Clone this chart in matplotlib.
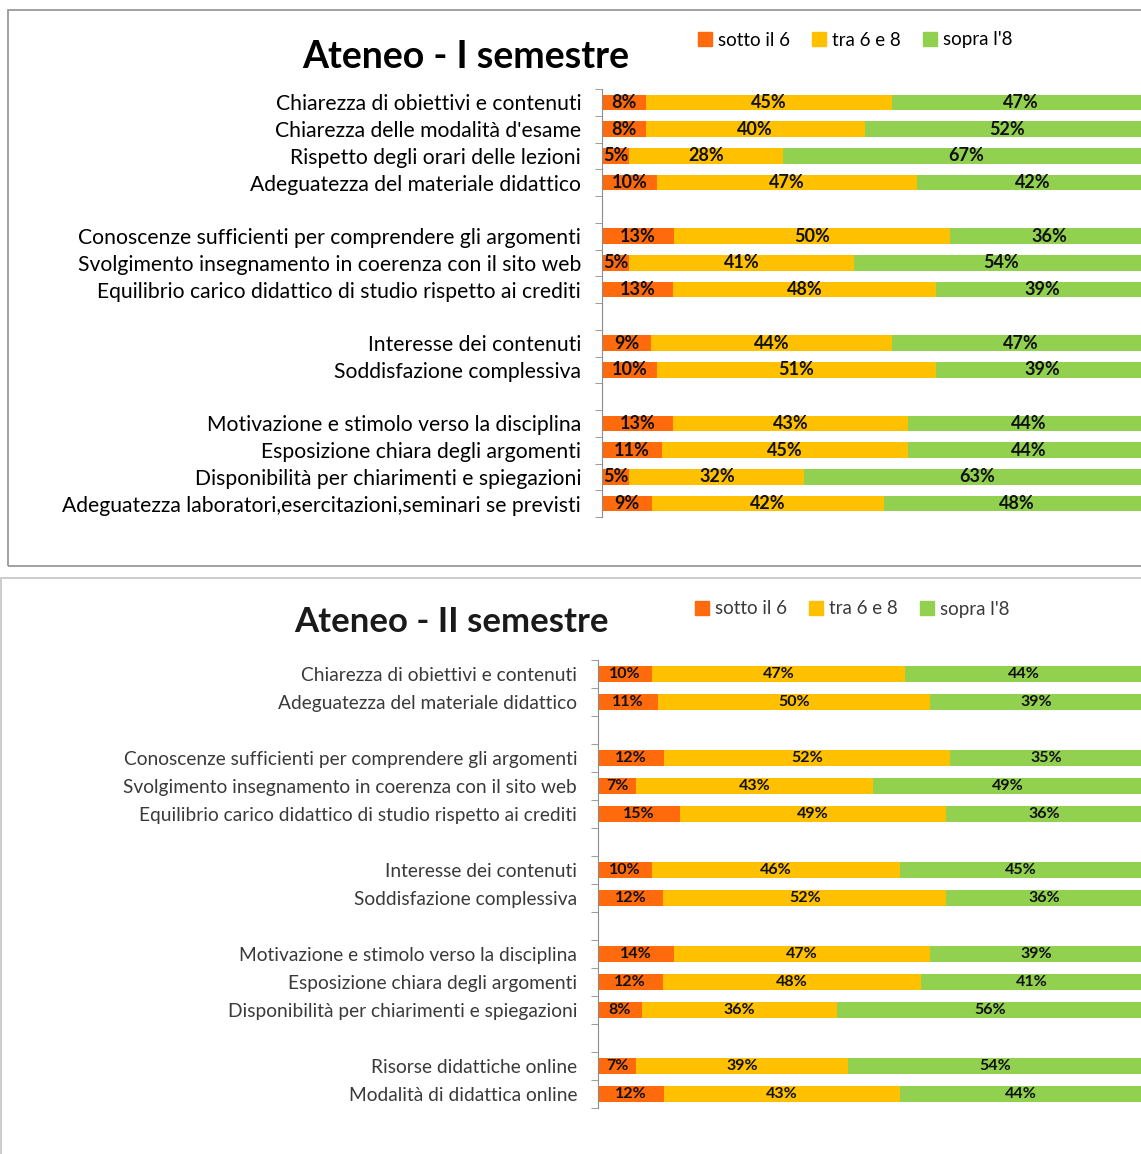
import numpy as np
import matplotlib.pyplot as plt
from matplotlib.patches import Rectangle, Patch

plt.rcParams['font.family'] = ['Lato', 'DejaVu Sans']

# ---- data: Ateneo - I semestre ("" = empty slot between groups)
labels_1 = [
    "Chiarezza di obiettivi e contenuti",
    "Chiarezza delle modalità d'esame",
    "Rispetto degli orari delle lezioni",
    "Adeguatezza del materiale didattico",
    "",
    "Conoscenze sufficienti per comprendere gli argomenti",
    "Svolgimento insegnamento in coerenza con il sito web",
    "Equilibrio carico didattico di studio rispetto ai crediti",
    "",
    "Interesse dei contenuti",
    "Soddisfazione complessiva",
    "",
    "Motivazione e stimolo verso la disciplina",
    "Esposizione chiara degli argomenti",
    "Disponibilità per chiarimenti e spiegazioni",
    "Adeguatezza laboratori,esercitazioni,seminari se previsti",
]
sotto_1 = [8, 8, 5, 10, None, 13, 5, 13, None, 9, 10, None, 13, 11, 5, 9]
tra_1 = [45, 40, 28, 47, None, 50, 41, 48, None, 44, 51, None, 43, 45, 32, 42]
sopra_1 = [47, 52, 67, 42, None, 36, 54, 39, None, 47, 39, None, 44, 44, 63, 48]

# ---- data: Ateneo - II semestre
labels_2 = [
    "Chiarezza di obiettivi e contenuti",
    "Adeguatezza del materiale didattico",
    "",
    "Conoscenze sufficienti per comprendere gli argomenti",
    "Svolgimento insegnamento in coerenza con il sito web",
    "Equilibrio carico didattico di studio rispetto ai crediti",
    "",
    "Interesse dei contenuti",
    "Soddisfazione complessiva",
    "",
    "Motivazione e stimolo verso la disciplina",
    "Esposizione chiara degli argomenti",
    "Disponibilità per chiarimenti e spiegazioni",
    "",
    "Risorse didattiche online",
    "Modalità di didattica online",
]
sotto_2 = [10, 11, None, 12, 7, 15, None, 10, 12, None, 14, 12, 8, None, 7, 12]
tra_2 = [47, 50, None, 52, 43, 49, None, 46, 52, None, 47, 48, 36, None, 39, 43]
sopra_2 = [44, 39, None, 35, 49, 36, None, 45, 36, None, 39, 41, 56, None, 54, 44]

series_names = ["sotto il 6", "tra 6 e 8", "sopra l'8"]
colors = ["#FF6A0D", "#FFC000", "#92D050"]

W, H = 1141, 1154
fig = plt.figure(figsize=(W / 100, H / 100), dpi=100)


def px_axes(x0, y0, x1, y1):
    # pixel box (top-left origin) -> figure axes
    return fig.add_axes([x0 / W, 1 - y1 / H, (x1 - x0) / W, (y1 - y0) / H])


def draw(ax, labels, sotto, tra, sopra, txtcolor, lab_fs, val_fs, bar_h):
    n = len(labels)
    y = np.arange(n)
    vals = [np.array([np.nan if v is None else v for v in s], float)
            for s in (sotto, tra, sopra)]
    total = vals[0] + vals[1] + vals[2]  # rows are shares of 100%
    left = np.zeros(n)
    ok = ~np.isnan(vals[0])
    for v, c in zip(vals, colors):
        w = v / total * 100
        bars = ax.barh(y[ok], w[ok], left=left[ok], height=bar_h, color=c)
        ax.bar_label(bars, labels=[f"{x:.0f}%" for x in v[ok]],
                     label_type='center', fontsize=val_fs, fontweight='bold',
                     color='#111111')
        left = left + np.nan_to_num(w)
    ax.set_xlim(0, 100)
    ax.set_ylim(n - 0.5, -0.5)
    ax.set_yticks(y)
    ax.set_yticklabels(labels, fontsize=lab_fs, color=txtcolor)
    ax.set_yticks(np.arange(-0.5, n + 0.5), minor=True)
    ax.tick_params(axis='y', which='major', length=0, pad=15)
    ax.tick_params(axis='y', which='minor', length=5, color='#8c8c8c')
    ax.set_xticks([])
    for s in ('top', 'right', 'bottom'):
        ax.spines[s].set_visible(False)
    ax.spines['left'].set_color('#8c8c8c')


# chart frames
fig.patches.append(Rectangle((8 / W, 1 - 566 / H), 1.2, 556 / H,
                             transform=fig.transFigure, fill=False,
                             edgecolor='#9a9a9a', linewidth=1.3))
fig.patches.append(Rectangle((1 / W, 1 - 1170 / H), 1.2, 592 / H,
                             transform=fig.transFigure, fill=False,
                             edgecolor='#c8c8c8', linewidth=1.3))

ax1 = px_axes(602, 89, 1149, 517)
draw(ax1, labels_1, sotto_1, tra_1, sopra_1, '#000000', 15.2, 13, 0.58)
ax2 = px_axes(598, 660, 1142, 1108)
draw(ax2, labels_2, sotto_2, tra_2, sopra_2, '#3a3a3a', 13.8, 11.5, 0.55)

fig.text(466 / W, 1 - 57 / H, "Ateneo - I semestre", fontsize=27,
         fontweight='bold', ha='center', va='center')
fig.text(451 / W, 1 - 622 / H, "Ateneo - II semestre", fontsize=25,
         fontweight='bold', ha='center', va='center', color='#1a1a1a')

handles = [Patch(color=c, label=l) for c, l in zip(colors, series_names)]
for cx, cy, tc in ((855, 40, '#000000'), (852, 609, '#3a3a3a')):
    fig.legend(handles=handles, loc='center', bbox_to_anchor=(cx / W, 1 - cy / H),
               ncol=3, frameon=False, fontsize=13.5, handlelength=0.75,
               handleheight=0.75, handletextpad=0.3, columnspacing=1.2,
               labelcolor=tc)

fig.savefig("out.png", dpi=100)
